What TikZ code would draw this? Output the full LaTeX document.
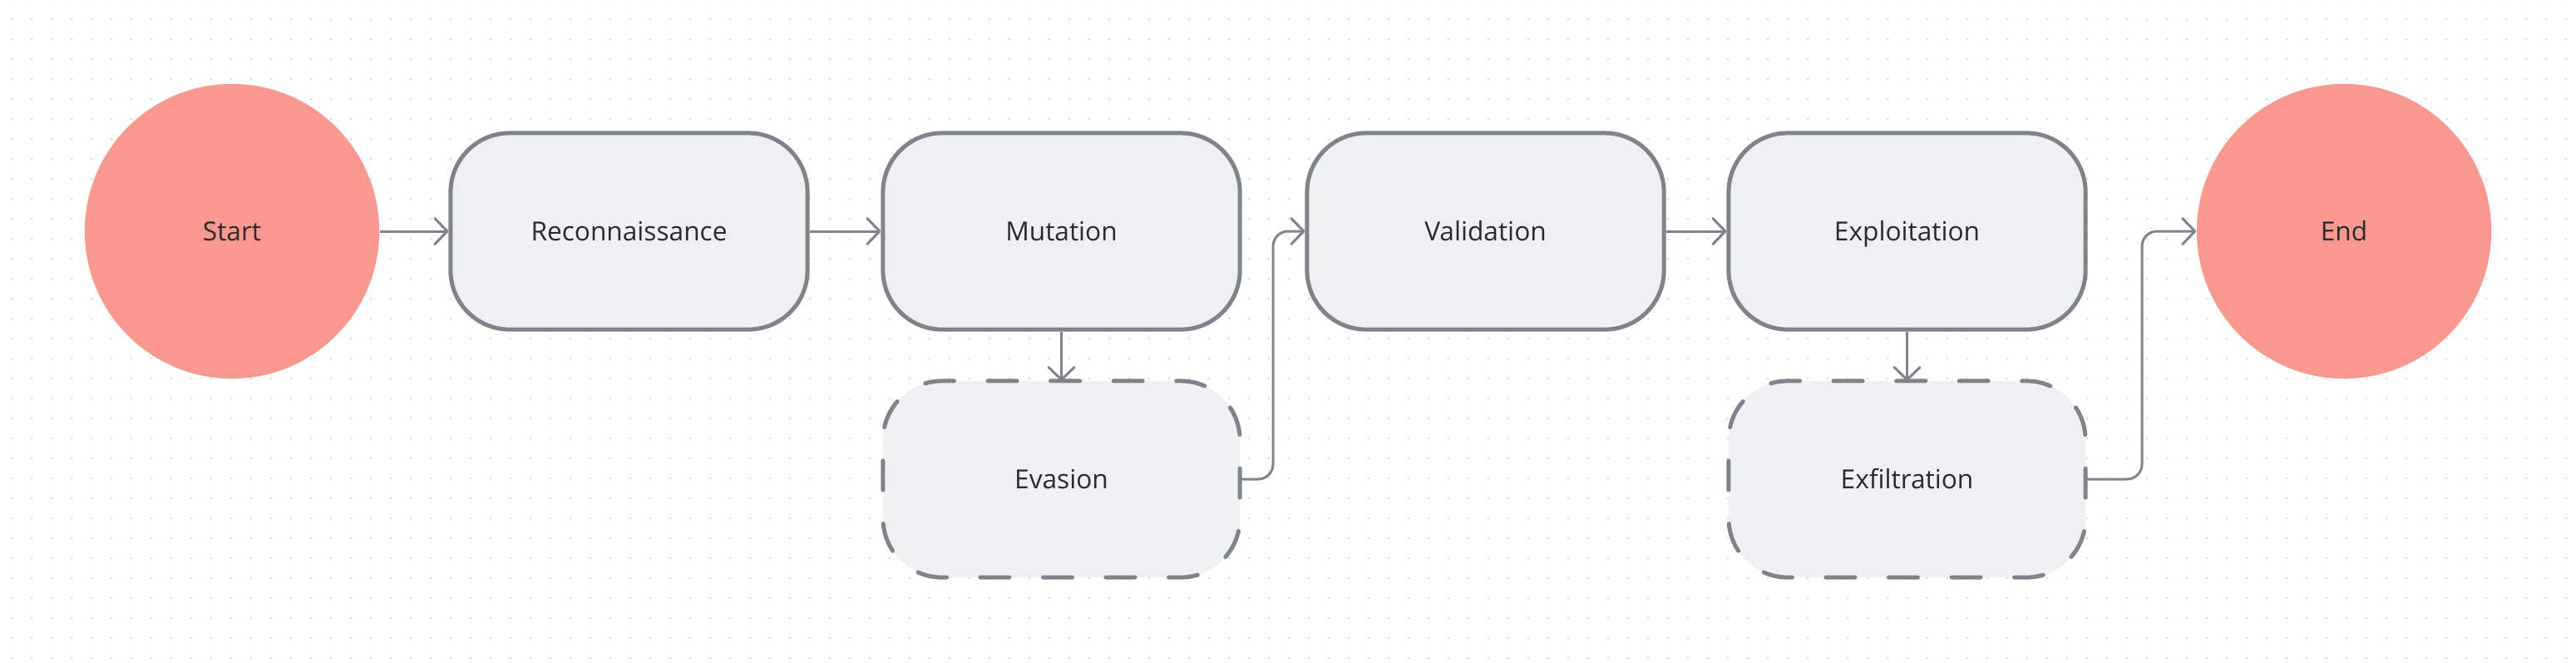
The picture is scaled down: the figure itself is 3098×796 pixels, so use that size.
\documentclass[tikz,border=0pt]{standalone}
\usepackage{fontspec}
\setmainfont{Open Sans}[Ligatures=NoCommon]
\usetikzlibrary{arrows.meta}
\definecolor{salmon}{HTML}{FA978F}
\definecolor{boxfill}{HTML}{EFF0F2}
\definecolor{edge}{HTML}{7F838B}
\definecolor{txt}{HTML}{2B2B2F}
\definecolor{gridot}{HTML}{DADBE2}
\begin{document}
\begin{tikzpicture}[x=0.01cm,y=-0.01cm,
  lbl/.style={text=txt, font=\fontsize{9pt}{11pt}\selectfont, text height=6.4pt, text depth=0pt},
  terminal/.style={circle, fill=salmon, minimum size=3.54cm, inner sep=0pt, lbl},
  stepbox/.style={rectangle, rounded corners=0.71cm, draw=edge, line width=0.05cm, fill=boxfill,
    minimum width=4.29cm, minimum height=2.36cm, inner sep=0pt, lbl},
  optbox/.style={rectangle, rounded corners=0.71cm, fill=boxfill, outer sep=0pt,
    minimum width=4.29cm, minimum height=2.36cm, inner sep=0pt, lbl},
  optedge/.style={draw=edge, line width=0.05cm, rounded corners=0.71cm, line cap=round,
    dash pattern=on 0.35cm off 0.405cm, dash phase=0.175cm},
  flow/.style={draw=edge, line width=0.03cm, rounded corners=0.18cm,
    -{Straight Barb[length=0.15cm,width=0.31cm,line cap=round,line join=round]}}]
\useasboundingbox (0,0) rectangle (3098,796);
\fill[white] (0,0) rectangle (3098,796);
\foreach \i in {0,...,128} {
  \foreach \j in {0,...,33} {
    \fill[gridot] ({14+24*\i},{-1+24*\j}) circle (0.015cm);
  }
}
\node[terminal] (start) at (279,278) {Start};
\node[stepbox] (recon) at (756.5,278) {Reconnaissance};
\node[stepbox] (mut) at (1276.5,278) {Mutation};
\node[stepbox] (val) at (1786.5,278) {Validation};
\node[stepbox] (expl) at (2293.5,278) {Exploitation};
\node[terminal] (end) at (2819,278) {End};
\node[optbox] (eva) at (1276.5,576) {Evasion};
\node[optbox] (exf) at (2293.5,576) {Exfiltration};
\draw[optedge] (eva.north) -- (eva.north west) -- (eva.south west) -- (eva.south east) -- (eva.north east) -- cycle;
\draw[optedge] (exf.north) -- (exf.north west) -- (exf.south west) -- (exf.south east) -- (exf.north east) -- cycle;
\coordinate (k1) at (1531,0);
\coordinate (k2) at (2576,0);
\draw[flow] (start) -- (recon);
\draw[flow] (recon) -- (mut);
\draw[flow] (mut) -- (eva);
\draw[flow] (val) -- (expl);
\draw[flow] (expl) -- (exf);
\draw[flow] (eva.east) -- (eva.east -| k1) -- (k1 |- val.west) -- (val.west);
\draw[flow] (exf.east) -- (exf.east -| k2) -- (k2 |- end.west) -- (end.west);
\end{tikzpicture}
\end{document}
